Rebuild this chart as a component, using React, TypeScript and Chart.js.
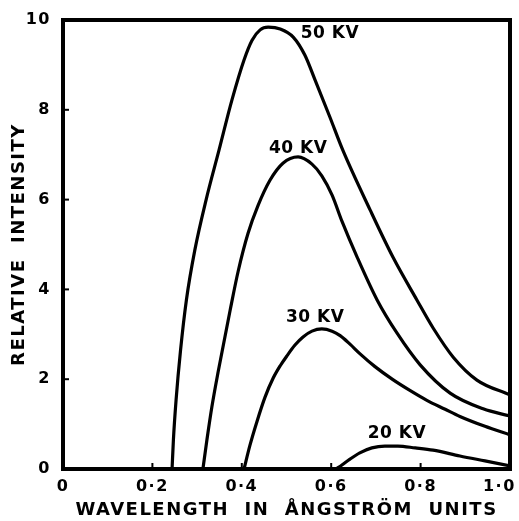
import React, { useEffect, useRef } from "react";
import { Chart, registerables } from "chart.js";

Chart.register(...registerables);

// Wavelength (Å) and relative intensity for each tube voltage
const wl50 = [0.244, 0.247, 0.253, 0.263, 0.276, 0.295, 0.32, 0.349, 0.378, 0.405, 0.423, 0.441, 0.459, 0.486, 0.515, 0.541, 0.564, 0.597, 0.626, 0.687, 0.738, 0.792, 0.828, 0.873, 0.926, 1.0];
const int50 = [0, 0.65, 1.54, 2.65, 3.76, 4.88, 5.99, 7.1, 8.22, 9.11, 9.55, 9.78, 9.84, 9.8, 9.62, 9.22, 8.66, 7.84, 7.1, 5.77, 4.72, 3.76, 3.14, 2.49, 1.98, 1.65];

const wl40 = [0.313, 0.322, 0.333, 0.347, 0.374, 0.392, 0.414, 0.436, 0.463, 0.492, 0.526, 0.557, 0.579, 0.602, 0.624, 0.658, 0.703, 0.747, 0.799, 0.866, 0.94, 1.0];
const int40 = [0, 0.65, 1.38, 2.16, 3.54, 4.41, 5.25, 5.86, 6.43, 6.81, 6.95, 6.79, 6.53, 6.1, 5.52, 4.72, 3.76, 3.03, 2.32, 1.69, 1.34, 1.18];

const wl30 = [0.405, 0.418, 0.434, 0.452, 0.47, 0.486, 0.501, 0.519, 0.537, 0.557, 0.579, 0.602, 0.62, 0.642, 0.664, 0.698, 0.738, 0.776, 0.814, 0.855, 0.888, 0.944, 1.0];
const int30 = [0, 0.52, 1.06, 1.6, 2.02, 2.3, 2.52, 2.76, 2.94, 3.07, 3.12, 3.07, 2.97, 2.78, 2.57, 2.28, 1.99, 1.75, 1.53, 1.33, 1.17, 0.95, 0.76];

const wl20 = [0.611, 0.624, 0.642, 0.664, 0.691, 0.72, 0.749, 0.788, 0.828, 0.888, 0.944, 1.0];
const int20 = [0, 0.09, 0.22, 0.36, 0.47, 0.51, 0.51, 0.47, 0.42, 0.29, 0.18, 0.07];

const seriesLabels = ["50 KV", "40 KV", "30 KV", "20 KV"];
// label anchor positions (wavelength, intensity)
const labelX = [0.597, 0.526, 0.564, 0.747];
const labelY = [9.7, 7.14, 3.37, 0.78];

const xTicks = [0, 0.2, 0.4, 0.6, 0.8, 1.0];
const yTicks = [0, 2, 4, 6, 8, 10];

const toPts = (xs: number[], ys: number[]) => xs.map((x, i) => ({ x, y: ys[i] }));

const spacingPlugin = {
  id: "spacing",
  beforeDraw(chart: any) {
    (chart.ctx as any).letterSpacing = "1.5px";
  },
  afterDraw(chart: any) {
    (chart.ctx as any).letterSpacing = "0px";
  },
};

const framePlugin = {
  id: "frame",
  afterDatasetsDraw(chart: any) {
    const { ctx, chartArea, scales } = chart;
    const { left, right, top, bottom } = chartArea;
    ctx.save();
    ctx.strokeStyle = "#000";
    ctx.lineWidth = 4;
    ctx.lineJoin = "miter";
    ctx.strokeRect(left, top, right - left, bottom - top);
    // inner tick marks
    ctx.lineWidth = 2;
    xTicks.forEach((v) => {
      const px = scales.x.getPixelForValue(v);
      ctx.beginPath();
      ctx.moveTo(px, bottom);
      ctx.lineTo(px, bottom - 6);
      ctx.stroke();
    });
    yTicks.forEach((v) => {
      const py = scales.y.getPixelForValue(v);
      ctx.beginPath();
      ctx.moveTo(left, py);
      ctx.lineTo(left + 6, py);
      ctx.stroke();
    });
    // curve labels
    ctx.fillStyle = "#000";
    ctx.font = "bold 17px 'DejaVu Sans'";
    (ctx as any).letterSpacing = "0.5px";
    ctx.textAlign = "center";
    ctx.textBaseline = "middle";
    seriesLabels.forEach((t, i) => {
      ctx.fillText(t, scales.x.getPixelForValue(labelX[i]), scales.y.getPixelForValue(labelY[i]));
    });
    ctx.restore();
  },
};

export default function App() {
  const ref = useRef<HTMLCanvasElement>(null);
  useEffect(() => {
    document.body.style.margin = "0";
    const mk = (xs: number[], ys: number[]) => ({
      data: toPts(xs, ys),
      showLine: true,
      borderColor: "#000",
      borderWidth: 3.2,
      pointRadius: 0,
      cubicInterpolationMode: "monotone" as const,
      fill: false,
    });
    const chart = new Chart(ref.current!, {
      type: "scatter",
      data: {
        datasets: [mk(wl50, int50), mk(wl40, int40), mk(wl30, int30), mk(wl20, int20)],
      },
      options: {
        animation: false,
        responsive: false,
        layout: { padding: { top: 20, right: 9, left: 0, bottom: 0 } },
        plugins: { legend: { display: false }, tooltip: { enabled: false } },
        scales: {
          x: {
            type: "linear",
            min: 0,
            max: 1,
            afterBuildTicks: (axis: any) => {
              axis.ticks = xTicks.map((v) => ({ value: v }));
            },
            afterFit: (axis: any) => {
              axis.height = 52;
              axis.paddingLeft = 0;
              axis.paddingRight = 0;
            },
            grid: { display: false, drawTicks: false },
            border: { display: false },
            ticks: {
              color: "#000",
              font: { family: "'DejaVu Sans'", weight: "bold", size: 16 },
              padding: 8,
              maxRotation: 0,
              callback: (v: any) =>
                v === 0 ? "0" : v === 1 ? "1·0   " : Number(v).toFixed(1).replace(".", "·"),
            },
            title: {
              display: true,
              text: "WAVELENGTH  IN  ÅNGSTRÖM  UNITS",
              color: "#000",
              font: { family: "'DejaVu Sans'", weight: "bold", size: 18 },
              padding: { top: 0, bottom: 0 },
            },
          },
          y: {
            type: "linear",
            min: 0,
            max: 10,
            afterBuildTicks: (axis: any) => {
              axis.ticks = yTicks.map((v) => ({ value: v }));
            },
            afterFit: (axis: any) => {
              axis.width = 63;
              axis.paddingTop = 0;
              axis.paddingBottom = 0;
            },
            grid: { display: false, drawTicks: false },
            border: { display: false },
            ticks: {
              color: "#000",
              font: { family: "'DejaVu Sans'", weight: "bold", size: 16 },
              padding: 12,
            },
            title: {
              display: true,
              text: "RELATIVE  INTENSITY",
              color: "#000",
              font: { family: "'DejaVu Sans'", weight: "bold", size: 18 },
              padding: { top: 9, bottom: 0 },
            },
          },
        },
      },
      plugins: [spacingPlugin, framePlugin],
    });
    return () => chart.destroy();
  }, []);
  return (
    <div style={{ width: 519, height: 521, background: "#fff", overflow: "hidden" }}>
      <canvas ref={ref} width={519} height={521} style={{ display: "block" }} />
    </div>
  );
}
